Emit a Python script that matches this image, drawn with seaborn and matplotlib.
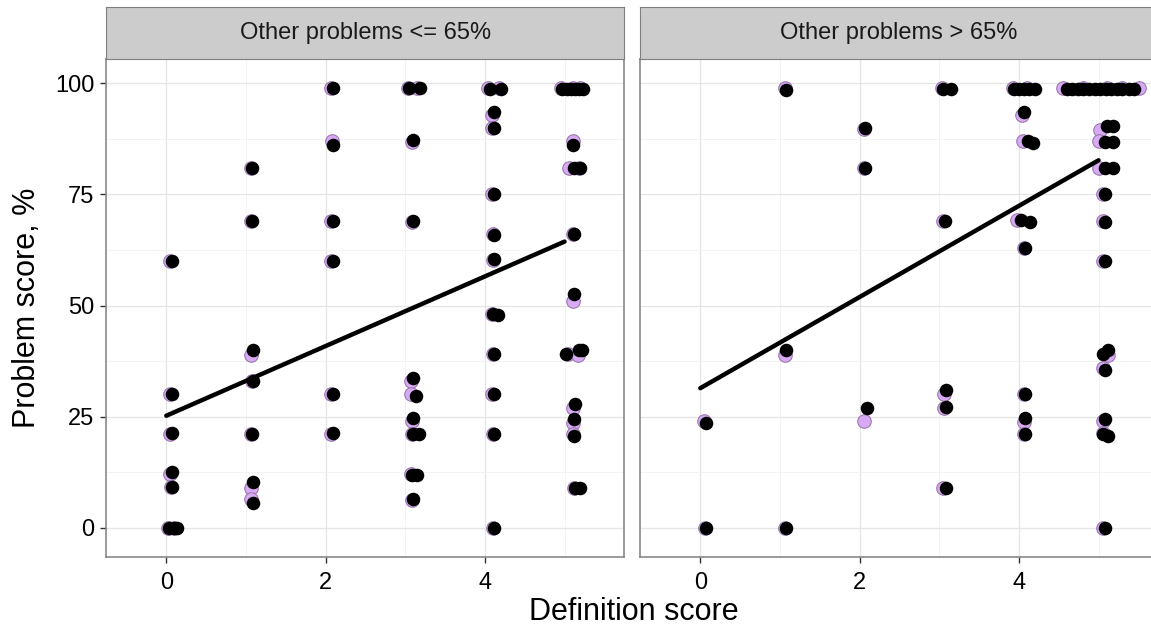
import numpy as np
import pandas as pd
import matplotlib
matplotlib.use("Agg")
import matplotlib.pyplot as plt
import seaborn as sns

# Facet titles
panels = ["Other problems <= 65%", "Other problems > 65%"]

# Left facet: first jitter layer (purple) and second jitter layer (black)
left_purple_x = [2.07, 3.03, 3.15, 4.04, 4.18, 4.95, 5.1, 5.2,
                 4.09, 4.09, 2.08, 3.08, 5.1, 5.05, 5.18, 1.06, 4.09, 1.06, 2.07, 3.08,
                 4.1, 5.11, 0.05, 2.07, 4.1, 5.1, 4.09, 1.06, 4.1, 5.04, 5.17, 1.07,
                 0.05, 2.07, 3.07, 3.07, 4.09, 5.11, 3.08, 5.1, 0.05, 1.06, 2.07, 3.08,
                 4.1, 5.1, 0.05, 0.06, 1.06, 1.06, 3.07, 3.09, 5.12, 0.02, 0.1, 4.1]
left_purple_y = [99, 99, 99, 98.9, 98.9, 98.9, 98.9, 98.9,
                 93.0, 90.0, 87, 86.9, 87, 81, 81, 81, 75, 69, 69, 68.8,
                 66, 66, 60, 60, 60.2, 51, 48, 38.8, 39.2, 39, 38.8, 33,
                 30, 30, 33, 30, 30, 26.9, 24, 23.5, 21, 21, 21, 21,
                 21, 21, 12, 9.1, 9, 6.5, 12, 6.2, 9, 0, 0, 0]
left_black_x = [2.09, 3.05, 3.18, 4.06, 4.2, 4.97, 5.03, 5.08, 5.13, 5.18, 5.23,
                4.11, 4.11, 2.09, 3.1, 5.11, 5.12, 5.2, 1.08, 4.11, 1.08, 2.09, 3.1,
                4.11, 5.12, 0.07, 2.09, 4.11, 5.12, 4.1, 4.16, 1.09, 4.11, 5.02, 5.18,
                5.22, 1.09, 0.07, 2.09, 3.1, 3.13, 4.11, 5.13, 3.1, 5.12, 0.07, 1.08,
                2.09, 3.1, 3.17, 4.11, 5.12, 0.07, 0.07, 1.09, 1.09, 3.08, 3.15, 3.1,
                5.13, 5.2, 0.03, 0.1, 0.13, 4.11]
left_black_y = [99, 99, 99, 98.7, 98.7, 98.7, 98.7, 98.7, 98.7, 98.7, 98.7,
                93.6, 90.0, 86.1, 87.2, 86.1, 81, 81, 81, 75, 69, 69, 69.1,
                65.9, 66, 60, 60, 60.4, 52.5, 48, 47.8, 40, 39.2, 39, 40,
                40, 33, 30, 30.2, 33.8, 29.6, 30, 27.8, 24.6, 24.5, 21.2, 21,
                21.2, 21, 21, 21, 20.6, 12.6, 9.1, 10.2, 5.5, 11.9, 11.9, 6.4,
                8.9, 8.9, 0, 0, 0, 0]

# Right facet
right_purple_x = [1.06, 3.03, 3.93, 4.1, 4.55, 4.8, 5.1, 5.3, 5.51, 4.04, 2.05, 5.02,
                  4.05, 5.01, 2.05, 5.01, 5.06, 3.05, 3.98, 5.05, 4.06, 5.06, 1.06, 5.12,
                  5.06, 3.06, 3.06, 4.06, 2.06, 0.05, 4.06, 4.06, 5.06, 5.06, 3.05,
                  0.06, 1.06, 5.06]
right_purple_y = [99, 99, 99, 99, 99, 99, 99, 99, 99, 92.8, 89.8, 89.6,
                  87, 87, 81, 81, 75, 69, 69.2, 69, 63, 60, 38.8, 38.8,
                  36, 30, 27, 30, 24.1, 24.1, 23.8, 21, 24.1, 21.2, 8.9,
                  0, 0, 0]
right_black_x = [1.08, 3.05, 3.15, 3.94, 4.0, 4.07, 4.13, 4.2,
                 4.6, 4.67, 4.74, 4.81, 4.88, 4.95, 5.02, 5.09, 5.16, 5.23, 5.3, 5.38, 5.45,
                 4.07, 2.07, 5.1, 5.18, 4.12, 4.18, 5.08, 5.18, 2.07, 5.08, 5.18, 5.08,
                 3.07, 4.02, 4.14, 5.08, 4.08, 5.08, 1.08, 5.12, 5.05, 5.08, 3.08, 3.08,
                 4.08, 2.09, 0.07, 4.08, 4.08, 5.08, 5.12, 5.06, 3.08, 0.07, 1.08, 5.08]
right_black_y = [98.5, 98.8, 98.8, 98.8, 98.8, 98.8, 98.8, 98.8,
                 98.8, 98.8, 98.8, 98.8, 98.8, 98.8, 98.8, 98.8, 98.8, 98.8, 98.8, 98.8, 98.8,
                 93.6, 90, 90.4, 90.4, 87, 86.6, 86.8, 86.8, 81, 81, 81, 75,
                 69.1, 69.2, 68.7, 68.7, 63, 60, 40, 40, 39, 35.6, 31, 27.1,
                 30, 27, 23.5, 24.6, 21, 24.4, 20.6, 21, 8.9, 0, 0, 0]

# Linear fit ends
fit_x = [0, 5]
left_fit_y = [25.2, 64.4]
right_fit_y = [31.4, 82.7]

purple = [(left_purple_x, left_purple_y), (right_purple_x, right_purple_y)]
black = [(left_black_x, left_black_y), (right_black_x, right_black_y)]
fits = [left_fit_y, right_fit_y]

sns.set_style("white")
plt.rcParams["font.family"] = ["Liberation Sans", "DejaVu Sans"]

W, H = 1151, 631
fig = plt.figure(figsize=(W / 100, H / 100), dpi=100)

panel_lefts = [106, 640]
panel_w = 518.3
panel_top, panel_bot = 59, 557
strip_top = 7.3

for i, title in enumerate(panels):
    ax = fig.add_axes([panel_lefts[i] / W, (H - panel_bot) / H,
                       panel_w / W, (panel_bot - panel_top) / H])
    strip = fig.add_axes([panel_lefts[i] / W, (H - panel_top) / H,
                          panel_w / W, (panel_top - strip_top) / H])

    px, py = purple[i]
    sns.scatterplot(x=px, y=py, ax=ax, s=95, color="#D8A9F4",
                    edgecolor="#9A7AAE", linewidth=0.8, zorder=3)
    bx, by = black[i]
    sns.scatterplot(x=bx, y=by, ax=ax, s=95, color="black",
                    edgecolor="black", linewidth=0, zorder=4)
    sns.lineplot(x=fit_x, y=fits[i], ax=ax, color="black", linewidth=3.2,
                 zorder=5)

    ax.set_xlim(-0.757, 5.75)
    ax.set_ylim(-6.6, 105.5)
    ax.set_xticks([0, 2, 4])
    ax.set_xticks([1, 3, 5], minor=True)
    ax.set_yticks([0, 25, 50, 75, 100])
    ax.set_yticks([12.5, 37.5, 62.5, 87.5], minor=True)
    ax.grid(which="major", color="#E5E5E5", linewidth=0.9)
    ax.grid(which="minor", color="#F3F3F3", linewidth=0.7)
    ax.set_axisbelow(True)
    ax.set_xlabel("")
    ax.set_ylabel("")
    ax.tick_params(which="major", length=4.5, width=1, color="#333333",
                   labelsize=17, labelcolor="black",
                   left=True, bottom=True)
    ax.tick_params(axis="x", pad=6)
    ax.tick_params(axis="y", pad=4)
    ax.tick_params(which="minor", length=0)
    if i == 1:
        ax.tick_params(axis="y", left=False, labelleft=False)
    for sp in ax.spines.values():
        sp.set_color("#7F7F7F")
        sp.set_linewidth(1.1)

    strip.set_facecolor("#CCCCCC")
    strip.set_xticks([])
    strip.set_yticks([])
    for sp in strip.spines.values():
        sp.set_color("#7F7F7F")
        sp.set_linewidth(0.8)
    strip.text(0.5, 0.5, title, ha="center", va="center", fontsize=17,
               color="#1A1A1A", transform=strip.transAxes)

fig.text(634 / W, 1 - 612 / H, "Definition score", ha="center", va="center",
         fontsize=22, color="black")
fig.text(27 / W, 1 - 308 / H, "Problem score, %", ha="center", va="center",
         rotation=90, fontsize=22, color="black")

fig.savefig("out.png", dpi=100)
plt.close(fig)
